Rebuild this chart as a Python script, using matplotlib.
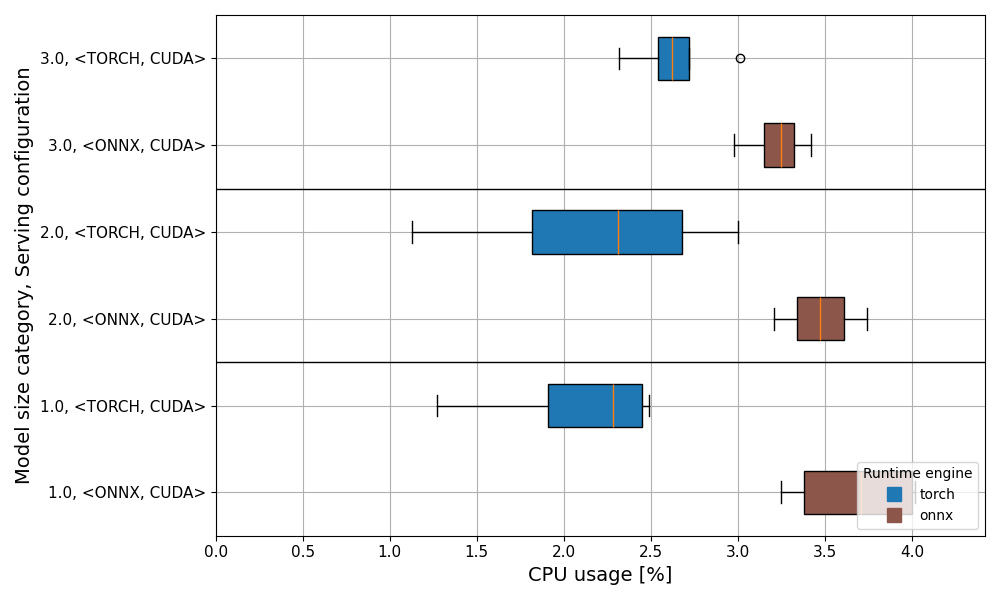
import matplotlib.pyplot as plt
from matplotlib.lines import Line2D

labels = ['1.0, <ONNX, CUDA>', '1.0, <TORCH, CUDA>',
          '2.0, <ONNX, CUDA>', '2.0, <TORCH, CUDA>',
          '3.0, <ONNX, CUDA>', '3.0, <TORCH, CUDA>']
engines = ['onnx', 'torch', 'onnx', 'torch', 'onnx', 'torch']
whislo = [3.25, 1.27, 3.21, 1.13, 2.98, 2.32]
q1 = [3.38, 1.91, 3.34, 1.82, 3.15, 2.54]
med = [3.71, 2.28, 3.47, 2.31, 3.25, 2.62]
q3 = [4.00, 2.45, 3.61, 2.68, 3.32, 2.72]
whishi = [4.02, 2.49, 3.74, 3.00, 3.42, 2.72]
fliers = [[], [], [], [], [], [3.01]]

colors = {'torch': '#1f77b4', 'onnx': '#8c564b'}

stats = []
for i in range(len(labels)):
    stats.append({'whislo': whislo[i], 'q1': q1[i], 'med': med[i],
                  'q3': q3[i], 'whishi': whishi[i], 'fliers': fliers[i]})

fig, ax = plt.subplots(figsize=(10, 6), dpi=100)
positions = list(range(1, len(labels) + 1))
bp = ax.bxp(stats, positions=positions, vert=False, patch_artist=True,
            widths=0.5, showfliers=True)
for patch, eng in zip(bp['boxes'], engines):
    patch.set_facecolor(colors[eng])
    patch.set_edgecolor('black')

# separators between size categories
for y in [2.5, 4.5]:
    ax.axhline(y, color='black', linewidth=1)

ax.set_yticks(positions)
ax.set_yticklabels(labels, fontsize=11)
ax.tick_params(axis='x', labelsize=11)
ax.set_ylim(0.5, 6.5)
ax.set_xlim(0, 4.42)
ax.grid(True)
ax.set_axisbelow(True)
ax.set_xlabel('CPU usage [%]', fontsize=14)
ax.set_ylabel('Model size category, Serving configuration', fontsize=14)

handles = [Line2D([], [], marker='s', linestyle='', markersize=10,
                  color=colors['torch'], label='torch'),
           Line2D([], [], marker='s', linestyle='', markersize=10,
                  color=colors['onnx'], label='onnx')]
ax.legend(handles=handles, title='Runtime engine', loc='lower right',
          fontsize=10, title_fontsize=10)

plt.tight_layout()
plt.savefig('out.png')
